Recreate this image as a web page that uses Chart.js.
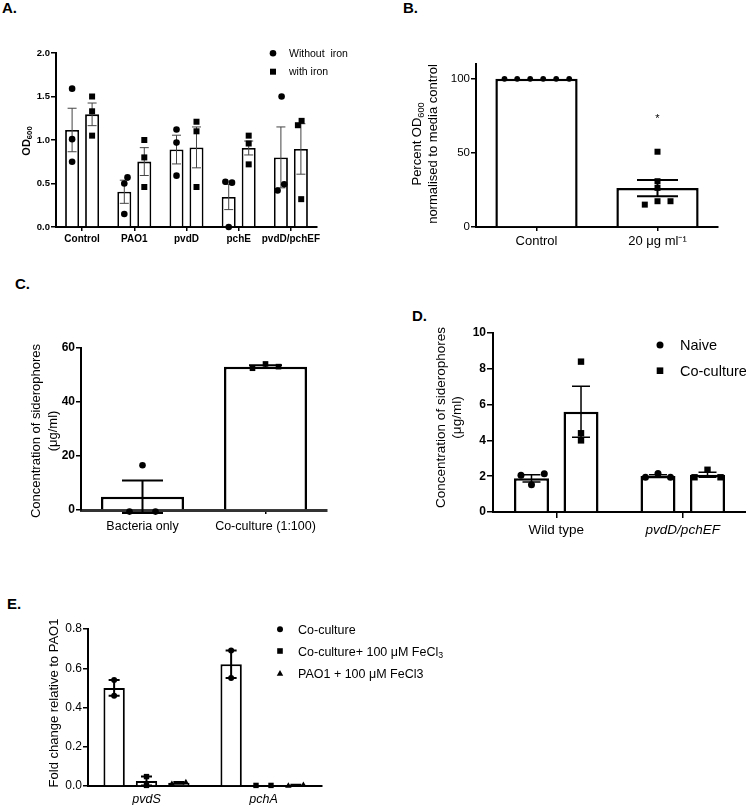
<!DOCTYPE html>
<html><head><meta charset="utf-8">
<script src="https://cdn.jsdelivr.net/npm/chart.js@4/dist/chart.umd.min.js"></script>
<style>
html,body{margin:0;padding:0;background:#fff;overflow:hidden;}
#fig{position:relative;width:746px;height:805px;}
canvas{position:absolute;}
.lab{position:absolute;font:bold 15px "Liberation Sans",Arial,sans-serif;color:#000;line-height:15px;}
</style></head><body>
<div id="fig">
<div class="lab" style="left:2px;top:0px">A.</div>
<div class="lab" style="left:403px;top:0px">B.</div>
<div class="lab" style="left:15px;top:276px">C.</div>
<div class="lab" style="left:412px;top:308px">D.</div>
<div class="lab" style="left:7px;top:596px">E.</div>
<canvas id="cA" width="375" height="220" style="left:0px;top:30px"></canvas>
<canvas id="cB" width="366" height="220" style="left:380px;top:30px"></canvas>
<canvas id="cC" width="380" height="220" style="left:0px;top:320px"></canvas>
<canvas id="cD" width="366" height="220" style="left:380px;top:320px"></canvas>
<canvas id="cE" width="500" height="195" style="left:0px;top:610px"></canvas>
</div>
<script>
// ---------- DATA ----------
// Panel A
const catsA = ['Control', 'PAO1', 'pvdD', 'pchE', 'pvdD/pchEF'];
const seriesA = ['Without  iron', 'with iron'];
const meanA_noFe = [1.115, 0.405, 0.89, 0.345, 0.80];
const semA_noFe = [0.25, 0.133, 0.165, 0.145, 0.35];
const meanA_Fe = [1.295, 0.752, 0.915, 0.908, 0.897];
const semA_Fe = [0.13, 0.16, 0.235, 0.08, 0.29];
const ptsA_noFe = [[1.59, 1.01, 0.75], [0.57, 0.50, 0.15], [1.12, 0.97, 0.59], [0.52, 0.51, 0.0], [1.50, 0.49, 0.42]];
const ptsA_Fe = [[1.50, 1.33, 1.05], [1.00, 0.80, 0.46], [1.21, 1.10, 0.46], [1.05, 0.96, 0.72], [1.22, 1.17, 0.32]];
const ticksA = [0, 0.5, 1.0, 1.5, 2.0];

// Panel B
const catsB = ['Control', '20 \u03bcg ml\u207b\u00b9'];
const meanB = [100, 26.3];
const semB = [0, 5.5];
const ptsB = [[100, 100, 100, 100, 100, 100], [50.8, 30.9, 26.4, 17.4, 17.4, 15.1]];
const sigB = ['', '*'];
const ticksB = [0, 50, 100];

// Panel C
const catsC = ['Bacteria only', 'Co-culture (1:100)'];
const meanC = [4.9, 53.1];
const semC = [6.0, 0.5];
const ptsC = [[16.6, -0.6, -0.6], [52.5, 54.1, 53.1]];
const ticksC = [0, 20, 40, 60];

// Panel D
const catsD = ['Wild type', 'pvdD/pchEF'];
const seriesD = ['Naive', 'Co-culture'];
const meanD_naive = [1.88, 2.01];
const semD_naive = [0.2, 0.07];
const meanD_co = [5.6, 2.08];
const semD_co = [1.42, 0.14];
const ptsD_naive = [[2.06, 1.52, 2.13], [1.94, 2.15, 1.94]];
const ptsD_co = [[8.4, 4.4, 4.0], [1.94, 2.36, 1.94]];
const ticksD = [0, 2, 4, 6, 8, 10];

// Panel E
const catsE = ['pvdS', 'pchA'];
const seriesE = ['Co-culture', 'Co-culture+ 100 \u03bcM FeCl_{3}', 'PAO1 + 100 \u03bcM FeCl3'];
const meanE_co = [0.50, 0.62];
const semE_co = [0.04, 0.07];
const meanE_coFe = [0.025, 0.003];
const semE_coFe = [0.023, 0];
const meanE_pFe = [0.016, 0.005];
const semE_pFe = [0.004, 0.002];
const ptsE_co = [[0.54, 0.46], [0.69, 0.55]];
const ptsE_coFe = [[0.048, 0.003], [0.003, 0.003]];
const ptsE_pFe = [[0.012, 0.02], [0.003, 0.007]];
const ticksE = [0, 0.2, 0.4, 0.6, 0.8];

// ---------- LAYOUT (pixel jitter of dots, not data) ----------
const jitA0 = [[0, 0, 0], [3.2, 0, 0], [0, 0, 0], [-3.3, 3.3, 0], [0.7, 3.3, -3.3]];
const jitA1 = [[0, 0, 0], [0, 0, 0], [0, 0, 0], [0, 0, 0], [0.7, -3, 0.3]];
const jitB = [[-32, -19.3, -6.3, 6.7, 19.7, 32.7], [0, 0, 0, 0, 13, -12.7]];
const jitC = [[0, -13, 13], [-13, 0, 13]];
const jitD0 = [[-10.5, 0, 12.8], [-12.5, 0, 12.5]];
const jitD1 = [[0, 0, 0], [-13, 0, 13]];
const jitE0 = [[0, 0], [0, 0]];
const jitE1 = [[0, 0], [-7.5, 7.5]];
const jitE2 = [[-7, 7], [-7.5, 7.5]];

const FF = '"Liberation Sans", Arial, Helvetica, sans-serif';
const FIG = {};

function drawRich(ctx, text, x, y, size, weight, align) {
  const parts = [];
  const re = /(_\{[^}]*\}|\^\{[^}]*\})/g;
  let last = 0, m;
  while ((m = re.exec(text))) {
    if (m.index > last) parts.push({t: text.slice(last, m.index), k: 0});
    parts.push({t: m[0].slice(2, -1), k: m[0][0] === '_' ? 1 : 2});
    last = re.lastIndex;
  }
  if (last < text.length) parts.push({t: text.slice(last), k: 0});
  const fonts = parts.map(p => `${weight} ${p.k ? size * 0.7 : size}px ${FF}`);
  let w = 0;
  const ws = parts.map((p, i) => { ctx.font = fonts[i]; const ww = ctx.measureText(p.t).width; w += ww; return ww; });
  let cx = align === 'center' ? x - w / 2 : x;
  ctx.textAlign = 'left';
  ctx.textBaseline = 'alphabetic';
  parts.forEach((p, i) => {
    ctx.font = fonts[i];
    const dy = p.k === 1 ? size * 0.22 : (p.k === 2 ? -size * 0.4 : 0);
    ctx.fillText(p.t, cx, y + dy);
    cx += ws[i];
  });
}

function drawShape(ctx, shape, x, y, r) {
  ctx.beginPath();
  if (shape === 'circle') {
    ctx.arc(x, y, r, 0, Math.PI * 2);
  } else if (shape === 'square') {
    ctx.rect(x - r, y - r, 2 * r, 2 * r);
  } else if (shape === 'triangle') {
    ctx.moveTo(x, y - r * 1.15);
    ctx.lineTo(x + r * 1.15, y + r * 0.85);
    ctx.lineTo(x - r * 1.15, y + r * 0.85);
    ctx.closePath();
  }
  ctx.fill();
}

const figPlugin = {
  id: 'figextras',
  afterDatasetsDraw(chart) {
    const o = FIG[chart.canvas.id];
    if (!o) return;
    const ctx = chart.ctx, ys = chart.scales.y;
    ctx.save();
    ctx.fillStyle = '#000';
    (o.err || []).forEach(e => {
      const meta = chart.getDatasetMeta(e.ds);
      const vals = chart.data.datasets[e.ds].data;
      meta.data.forEach((bar, i) => {
        const s = e.sem[i];
        if (!s) return;
        const yt = ys.getPixelForValue(vals[i] + s), yb = ys.getPixelForValue(vals[i] - s);
        const c = (Array.isArray(o.cap) ? o.cap[i] : o.cap) / 2;
        ctx.strokeStyle = o.errColor;
        ctx.lineWidth = o.errWidth;
        ctx.beginPath();
        ctx.moveTo(bar.x, yt); ctx.lineTo(bar.x, yb);
        ctx.moveTo(bar.x - c, yt); ctx.lineTo(bar.x + c, yt);
        ctx.moveTo(bar.x - c, yb); ctx.lineTo(bar.x + c, yb);
        ctx.stroke();
      });
    });
    (o.dots || []).forEach(d => {
      const meta = chart.getDatasetMeta(d.ds);
      meta.data.forEach((bar, i) => {
        const shape = Array.isArray(d.shape) ? d.shape[i] : d.shape;
        const r = Array.isArray(d.r) ? d.r[i] : d.r;
        d.values[i].forEach((v, j) => {
          drawShape(ctx, shape, bar.x + (d.jitter ? d.jitter[i][j] : 0), ys.getPixelForValue(v), r);
        });
      });
    });
    (o.marks || []).forEach(mk => {
      const meta = chart.getDatasetMeta(mk.ds);
      meta.data.forEach((bar, i) => {
        if (!mk.text[i]) return;
        ctx.font = `${mk.size}px ${FF}`;
        ctx.textAlign = 'center';
        ctx.textBaseline = 'middle';
        ctx.fillText(mk.text[i], bar.x, ys.getPixelForValue(mk.value) + 3);
      });
    });
    ctx.restore();
  },
  afterDraw(chart) {
    const o = FIG[chart.canvas.id];
    if (!o) return;
    const ctx = chart.ctx;
    ctx.save();
    ctx.fillStyle = '#000';
    (o.titles || []).forEach(t => {
      ctx.save();
      ctx.translate(t.x, t.y);
      ctx.rotate(-Math.PI / 2);
      drawRich(ctx, t.text, 0, t.size * 0.36, t.size, t.weight, 'center');
      ctx.restore();
    });
    if (o.legend) {
      const L = o.legend;
      L.items.forEach(it => {
        drawShape(ctx, it.shape, it.x, it.y, it.r);
        drawRich(ctx, it.text, it.tx, it.y + L.size * 0.36, L.size, L.weight, 'left');
      });
    }
    ctx.restore();
  }
};

function barDs(label, data, bw, bp, cp) {
  return {label, data, backgroundColor: '#fff', borderColor: '#000', borderWidth: bw,
    barPercentage: bp, categoryPercentage: cp, borderSkipped: 'start'};
}
function yAxis(o) {
  return {
    type: 'linear', min: o.min, max: o.max,
    border: {color: '#000', width: o.bw || 2},
    grid: {drawOnChartArea: false, drawTicks: true, tickLength: o.tl, tickColor: '#000', tickWidth: 1.5, lineWidth: 1.5},
    ticks: {color: '#000', padding: o.pad, font: {family: FF, size: o.fs, weight: o.fw}, callback: o.cb},
    afterBuildTicks(s) { s.ticks = o.ticks.map(v => ({value: v})); },
    afterFit(s) { s.width = o.w; s.paddingTop = 0; s.paddingBottom = 0; }
  };
}
function xAxis(o) {
  return {
    type: 'category', offset: true,
    border: {color: o.bc || '#000', width: o.bw || 2},
    grid: {offset: false, drawOnChartArea: false, drawTicks: o.tl > 0, tickLength: o.tl, tickColor: '#000', tickWidth: 1.5, lineWidth: 1.5},
    ticks: {color: '#000', padding: o.pad, maxRotation: 0, autoSkip: false, font: o.font},
    afterFit(s) { s.height = o.h; s.paddingLeft = 0; s.paddingRight = 0; }
  };
}
function opts(padding, x, y) {
  return {
    responsive: false, animation: false, devicePixelRatio: 1,
    layout: {padding},
    scales: {x, y},
    plugins: {legend: {display: false}, tooltip: {enabled: false}}
  };
}

// ---------- Panel A ----------
FIG.cA = {
  err: [{ds: 0, sem: semA_noFe}, {ds: 1, sem: semA_Fe}], errColor: '#444', errWidth: 1, cap: 9,
  dots: [{ds: 0, values: ptsA_noFe, jitter: jitA0, shape: 'circle', r: 3.3},
         {ds: 1, values: ptsA_Fe, jitter: jitA1, shape: 'square', r: 3}],
  titles: [{text: 'OD_{600}', x: 26, y: 111, size: 11, weight: 'bold'}],
  legend: {size: 10.5, weight: 'normal', items: [
    {shape: 'circle', r: 3.3, x: 273, y: 23.3, tx: 289, text: seriesA[0]},
    {shape: 'square', r: 3, x: 273, y: 41.7, tx: 289, text: seriesA[1]}]}
};
new Chart(document.getElementById('cA'), {
  type: 'bar',
  data: {labels: catsA, datasets: [barDs(seriesA[0], meanA_noFe, 1.8, 0.7, 0.766), barDs(seriesA[1], meanA_Fe, 1.8, 0.7, 0.766)]},
  options: opts({left: 0, top: 23, right: 58, bottom: 0},
    xAxis({h: 23, tl: 4, pad: 2, font: {family: FF, size: 10, weight: 'bold'}}),
    yAxis({min: 0, max: 2, ticks: ticksA, w: 56, tl: 5, pad: 1, fs: 9.5, fw: 'bold', cb: v => v.toFixed(1)})),
  plugins: [figPlugin]
});

// ---------- Panel B ----------
FIG.cB = {
  err: [{ds: 0, sem: semB}], errColor: '#000', errWidth: 2, cap: 41,
  dots: [{ds: 0, values: ptsB, jitter: jitB, shape: ['circle', 'square'], r: [2.9, 3]}],
  marks: [{ds: 0, text: sigB, value: 75, size: 11}],
  titles: [{text: 'Percent OD_{600}', x: 36, y: 114, size: 13, weight: 'normal'},
           {text: 'normalised to media control', x: 52, y: 114, size: 13, weight: 'normal'}]
};
new Chart(document.getElementById('cB'), {
  type: 'bar',
  data: {labels: catsB, datasets: [barDs('B', meanB, 2.5, 0.68, 1)]},
  options: opts({left: 0, top: 34, right: 28, bottom: 0},
    xAxis({h: 23, tl: 4, pad: 3, font: {family: FF, size: 13}}),
    yAxis({min: 0, max: 110, ticks: ticksB, w: 96, tl: 5, pad: 1, fs: 11.5, fw: 'normal'})),
  plugins: [figPlugin]
});

// ---------- Panel C ----------
FIG.cC = {
  err: [{ds: 0, sem: semC}], errColor: '#000', errWidth: 2, cap: [41, 33],
  dots: [{ds: 0, values: ptsC, jitter: jitC, shape: ['circle', 'square'], r: [3.3, 2.8]}],
  titles: [{text: 'Concentration of siderophores', x: 35, y: 111, size: 13, weight: 'normal'},
           {text: '(\u03bcg/ml)', x: 52, y: 111, size: 13, weight: 'normal'}]
};
new Chart(document.getElementById('cC'), {
  type: 'bar',
  data: {labels: catsC, datasets: [barDs('C', meanC, 2.5, 0.675, 1)]},
  options: opts({left: 0, top: 28, right: 53, bottom: 0},
    xAxis({h: 30, tl: 4, pad: 5, bw: 3, bc: '#333', font: {family: FF, size: 12.5}}),
    yAxis({min: 0, max: 60, ticks: ticksC, w: 81, tl: 5, pad: 1, fs: 12, fw: 'bold'})),
  plugins: [figPlugin]
});

// ---------- Panel D ----------
FIG.cD = {
  err: [{ds: 0, sem: semD_naive}, {ds: 1, sem: semD_co}], errColor: '#000', errWidth: 1.5, cap: 18,
  dots: [{ds: 0, values: ptsD_naive, jitter: jitD0, shape: 'circle', r: 3.5},
         {ds: 1, values: ptsD_co, jitter: jitD1, shape: 'square', r: 3.2}],
  titles: [{text: 'Concentration of siderophores', x: 60.5, y: 97.5, size: 13.5, weight: 'normal'},
           {text: '(\u03bcg/ml)', x: 76.5, y: 97.5, size: 13.5, weight: 'normal'}],
  legend: {size: 14.5, weight: 'normal', items: [
    {shape: 'circle', r: 3.5, x: 280, y: 25, tx: 300, text: seriesD[0]},
    {shape: 'square', r: 3.3, x: 280, y: 50.7, tx: 300, text: seriesD[1]}]}
};
new Chart(document.getElementById('cD'), {
  type: 'bar',
  data: {labels: catsD, datasets: [barDs(seriesD[0], meanD_naive, 2.5, 0.707, 0.783), barDs(seriesD[1], meanD_co, 2.5, 0.707, 0.783)]},
  options: opts({left: 0, top: 13, right: 0, bottom: 0},
    xAxis({h: 28, tl: 6, pad: 4, font: c => ({family: FF, size: 13.5, style: c.index === 1 ? 'italic' : 'normal'})}),
    yAxis({min: 0, max: 10, ticks: ticksD, w: 113, tl: 6, pad: 1, fs: 12, fw: 'bold'})),
  plugins: [figPlugin]
});

// ---------- Panel E ----------
FIG.cE = {
  err: [{ds: 0, sem: semE_co}, {ds: 1, sem: semE_coFe}, {ds: 2, sem: semE_pFe}], errColor: '#000', errWidth: 2, cap: 11,
  dots: [{ds: 0, values: ptsE_co, jitter: jitE0, shape: 'circle', r: 3},
         {ds: 1, values: ptsE_coFe, jitter: jitE1, shape: 'square', r: 2.7},
         {ds: 2, values: ptsE_pFe, jitter: jitE2, shape: 'triangle', r: 2.8}],
  titles: [{text: 'Fold change relative to PAO1', x: 53, y: 93, size: 13, weight: 'normal'}],
  legend: {size: 12.5, weight: 'normal', items: [
    {shape: 'circle', r: 3, x: 280, y: 19.3, tx: 298, text: seriesE[0]},
    {shape: 'square', r: 2.8, x: 280, y: 41, tx: 298, text: seriesE[1]},
    {shape: 'triangle', r: 2.8, x: 280, y: 63.3, tx: 298, text: seriesE[2]}]}
};
new Chart(document.getElementById('cE'), {
  type: 'bar',
  data: {labels: catsE, datasets: [
    barDs(seriesE[0], meanE_co, 2, 0.66, 0.83),
    barDs(seriesE[1], meanE_coFe, 2, 0.66, 0.83),
    barDs(seriesE[2], meanE_pFe, 2, 0.66, 0.83)]},
  options: opts({left: 0, top: 19, right: 178, bottom: 0},
    xAxis({h: 19, tl: 0, pad: 6, font: {family: FF, size: 12.5, style: 'italic'}}),
    yAxis({min: 0, max: 0.8, ticks: ticksE, w: 88, tl: 5, pad: 1, fs: 12, fw: 'normal', cb: v => v.toFixed(1)})),
  plugins: [figPlugin]
});
</script>
</body></html>
